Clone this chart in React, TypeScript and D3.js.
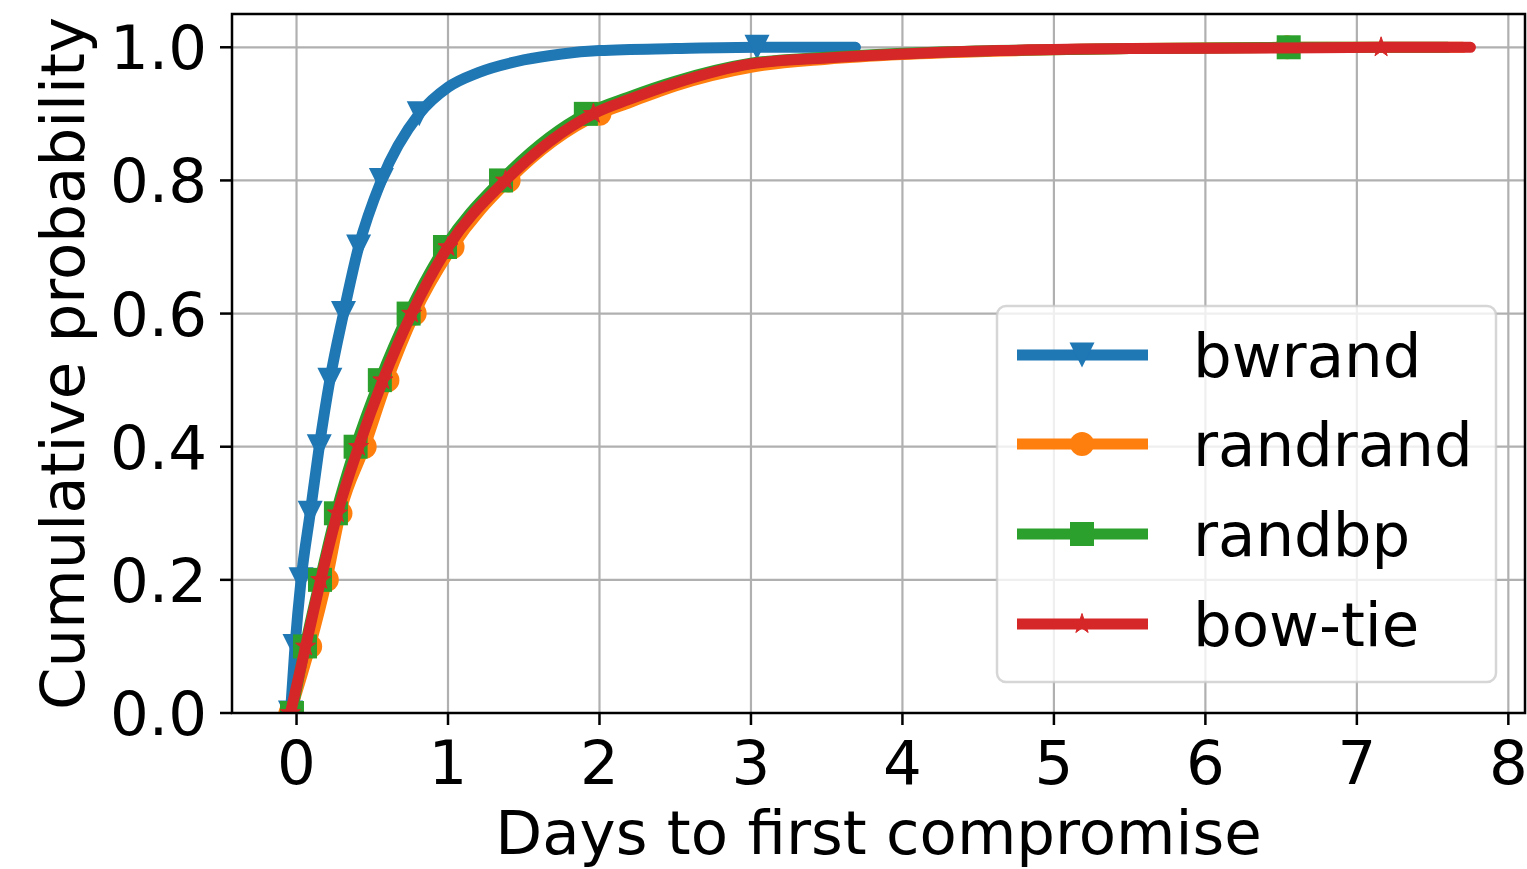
import React from "react";
import * as d3 from "d3";

// quantile levels where markers sit (markevery)
const levels = [0, 0.1, 0.2, 0.3, 0.4, 0.5, 0.6, 0.7, 0.8, 0.9, 1.0];

const bwrandQ = [-0.04, -0.01, 0.03, 0.09, 0.15, 0.22, 0.31, 0.41, 0.56, 0.81, 3.04];
const randrandQ = [-0.04, 0.09, 0.2, 0.29, 0.45, 0.6, 0.78, 1.03, 1.4, 2.0, 6.54];
const randbpQ = [-0.03, 0.056, 0.155, 0.26, 0.39, 0.55, 0.74, 0.98, 1.35, 1.91, 6.55];
const bowtieQ = [-0.04, 0.06, 0.16, 0.27, 0.41, 0.57, 0.76, 1.0, 1.38, 1.96, 7.16];

// extra points of the upper tail (between markers / past the last one)
const bwrandTailX = [1.0, 1.2, 1.5, 1.75, 2.0, 2.5, 3.69];
const bwrandTailY = [0.94, 0.962, 0.981, 0.99, 0.995, 0.998, 1.0];
const randrandTailX = [2.2, 2.5, 3.0, 3.5, 4.0, 4.6, 5.5, 7.7];
const randrandTailY = [0.917, 0.942, 0.97, 0.982, 0.989, 0.994, 0.998, 1.0];
const randbpTailX = [2.2, 2.5, 3.0, 3.5, 4.0, 4.6, 5.5, 7.6];
const randbpTailY = [0.926, 0.949, 0.976, 0.985, 0.991, 0.995, 0.998, 1.0];
const bowtieTailX = [2.2, 2.5, 3.0, 3.5, 4.0, 4.64, 5.5, 6.5, 7.75];
const bowtieTailY = [0.922, 0.946, 0.975, 0.984, 0.99, 0.995, 0.998, 0.999, 1.0];

const names = ["bwrand", "randrand", "randbp", "bow-tie"];
const colors = ["#1f77b4", "#ff7f0e", "#2ca02c", "#d62728"];
const markers = ["tri", "circle", "square", "star"];

const xTicks = [0, 1, 2, 3, 4, 5, 6, 7, 8];
const yTicks = [0, 0.2, 0.4, 0.6, 0.8, 1.0];

const W = 1527;
const H = 869;
const L = 232, T = 14, R = 1525, B = 713;
const FONT = "DejaVu Sans, sans-serif";
const FS = 61;

function starPath(r: number) {
  const inner = r * 0.381966;
  const pts: string[] = [];
  for (let i = 0; i < 10; i++) {
    const rr = i % 2 === 0 ? r : inner;
    const a = (Math.PI / 5) * i - Math.PI / 2;
    pts.push(`${rr * Math.cos(a)},${rr * Math.sin(a)}`);
  }
  return "M" + pts.join("L") + "Z";
}

function Marker({ kind, color }: { kind: string; color: string }) {
  if (kind === "tri") return <path d="M-12.5,-12.5L12.5,-12.5L0,12.5Z" fill={color} />;
  if (kind === "circle") return <circle r={12} fill={color} />;
  if (kind === "square") return <rect x={-12} y={-12} width={24} height={24} fill={color} />;
  return <path d={starPath(10.5)} fill={color} stroke={color} strokeWidth={1} />;
}

function build(q: number[], tx: number[], ty: number[]) {
  const pts: [number, number][] = levels.map((lv, i) => [q[i], lv]);
  tx.forEach((x, i) => pts.push([x, ty[i]]));
  pts.sort((a, b) => a[0] - b[0]);
  return pts;
}

export default function App() {
  const x = d3.scaleLinear().domain([-0.426, 8.11]).range([L, R]);
  const y = d3.scaleLinear().domain([0, 1.05]).range([B, T]);

  const series = [
    { q: bwrandQ, pts: build(bwrandQ, bwrandTailX, bwrandTailY) },
    { q: randrandQ, pts: build(randrandQ, randrandTailX, randrandTailY) },
    { q: randbpQ, pts: build(randbpQ, randbpTailX, randbpTailY) },
    { q: bowtieQ, pts: build(bowtieQ, bowtieTailX, bowtieTailY) },
  ];

  const lineGen = d3
    .line<[number, number]>()
    .x((d) => x(d[0]))
    .y((d) => y(d[1]))
    .curve(d3.curveMonotoneX);

  const fmt = d3.format(".1f");
  const legY = [355, 444, 534, 624];

  return (
    <>
      <style>{"body{margin:0}"}</style>
      <svg width={W} height={H} style={{ display: "block", background: "#fff" }} fontFamily={FONT}>
        <defs>
          <clipPath id="plotclip">
            <rect x={L} y={T} width={R - L} height={B - T} />
          </clipPath>
        </defs>

        {/* grid */}
        <g stroke="#b0b0b0" strokeWidth={2.2}>
          {xTicks.map((t) => (
            <line key={"gx" + t} x1={x(t)} x2={x(t)} y1={T} y2={B} />
          ))}
          {yTicks.map((t) => (
            <line key={"gy" + t} x1={L} x2={R} y1={y(t)} y2={y(t)} />
          ))}
        </g>

        {/* series */}
        <g clipPath="url(#plotclip)">
          {series.map((s, i) => (
            <g key={names[i]}>
              <path
                d={lineGen(s.pts) || ""}
                fill="none"
                stroke={colors[i]}
                strokeWidth={11}
                strokeLinecap="round"
                strokeLinejoin="round"
              />
              {levels.map((lv, j) => (
                <g key={j} transform={`translate(${x(s.q[j])},${y(lv)})`}>
                  <Marker kind={markers[i]} color={colors[i]} />
                </g>
              ))}
            </g>
          ))}
        </g>

        {/* frame */}
        <rect x={L} y={T} width={R - L} height={B - T} fill="none" stroke="#000" strokeWidth={2.5} />

        {/* x axis */}
        {xTicks.map((t) => (
          <g key={"xt" + t} transform={`translate(${x(t)},0)`}>
            <line y1={B} y2={B + 12} stroke="#000" strokeWidth={2.5} />
            <text y={784} textAnchor="middle" fontSize={FS}>
              {t}
            </text>
          </g>
        ))}
        {/* y axis */}
        {yTicks.map((t) => (
          <g key={"yt" + t} transform={`translate(0,${y(t)})`}>
            <line x1={L - 12} x2={L} stroke="#000" strokeWidth={2.5} />
            <text x={207} dy="0.36em" textAnchor="end" fontSize={FS}>
              {fmt(t)}
            </text>
          </g>
        ))}

        <text x={(L + R) / 2} y={854} textAnchor="middle" fontSize={FS}>
          Days to first compromise
        </text>
        <text transform={`translate(84,${(T + B) / 2}) rotate(-90)`} textAnchor="middle" fontSize={FS}>
          Cumulative probability
        </text>

        {/* legend */}
        <rect
          x={997}
          y={306}
          width={499}
          height={376}
          rx={9}
          fill="#fff"
          fillOpacity={0.8}
          stroke="#cccccc"
          strokeOpacity={0.8}
          strokeWidth={2.5}
        />
        {names.map((n, i) => (
          <g key={"lg" + n}>
            <line x1={1017} x2={1148} y1={legY[i]} y2={legY[i]} stroke={colors[i]} strokeWidth={11} />
            <g transform={`translate(1082,${legY[i]})`}>
              <Marker kind={markers[i]} color={colors[i]} />
            </g>
            <text x={1193} y={legY[i]} dy="0.36em" fontSize={FS}>
              {n}
            </text>
          </g>
        ))}
      </svg>
    </>
  );
}
